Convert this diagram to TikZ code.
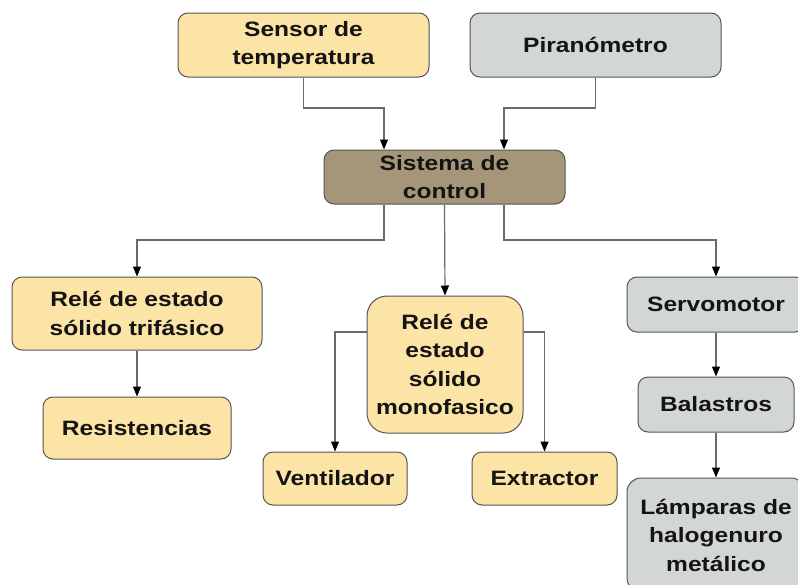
\documentclass[tikz,border=0pt]{standalone}
\usepackage{fontspec}
\setmainfont[FakeStretch=1.18]{Liberation Sans}
\usetikzlibrary{arrows.meta,calc}
\definecolor{boxyellow}{RGB}{252,227,166}
\definecolor{boxgray}{RGB}{211,215,212}
\definecolor{boxbrown}{RGB}{165,149,121}
\definecolor{boxline}{RGB}{85,85,85}
\definecolor{connline}{RGB}{105,105,105}
\definecolor{txt}{RGB}{20,20,20}
\tikzset{
  box/.style={draw=boxline, line width=1pt, rounded corners=10pt, inner sep=0pt,
    align=center, text=txt, font=\fontsize{20.8}{28.5}\selectfont\bfseries},
  ybox/.style={box, fill=boxyellow},
  gbox/.style={box, fill=boxgray},
  bbox/.style={box, fill=boxbrown},
  conn/.style={draw=connline, line width=1.2pt,
    -{Triangle[length=10pt,width=8pt,color=black,fill=black]}},
}
\begin{document}
\begin{tikzpicture}[x=1pt,y=-1pt]
\useasboundingbox (0,0) rectangle (798,584);
\clip (0,0) rectangle (798,584);
% nodes
\node[ybox, minimum width=251pt, minimum height=64pt] (sensor) at (303.5,45) {Sensor de\\temperatura};
\node[gbox, minimum width=251pt, minimum height=64pt] (piran) at (595.5,45) {Piranómetro};
\node[bbox, minimum width=241pt, minimum height=54pt] (sistema) at (444.5,177) {Sistema de\\control};
\node[ybox, minimum width=250pt, minimum height=73pt] (rtri) at (137,313.5) {Relé de estado\\sólido trifásico};
\node[ybox, minimum width=188pt, minimum height=62pt] (resist) at (137,428) {Resistencias};
\node[ybox, rounded corners=20pt, minimum width=156pt, minimum height=137pt] (rmono) at (445,364.5) {Relé de\\estado\\sólido\\monofasico};
\node[ybox, minimum width=144pt, minimum height=53pt] (vent) at (335,478.5) {Ventilador};
\node[ybox, minimum width=145pt, minimum height=53pt] (extr) at (544.5,478.5) {Extractor};
\node[gbox, minimum width=178pt, minimum height=55pt] (servo) at (716,304.5) {Servomotor};
\node[gbox, minimum width=156pt, minimum height=55pt] (balas) at (716,404.5) {Balastros};
\node[gbox, rounded corners=14pt, minimum width=178pt, minimum height=114pt] (lamp) at (716,535) {Lámparas de\\halogenuro\\metálico};
% junction levels
\coordinate (top) at (0,108);
\coordinate (mid) at (0,240);
% connectors
\draw[conn] (sensor.south) -- (sensor.south |- top) -| ([xshift=-60.5pt]sistema.north);
\draw[conn] (piran.south) -- (piran.south |- top) -| ([xshift=59.5pt]sistema.north);
\draw[conn] ([xshift=-60.5pt]sistema.south) -- ([xshift=-60.5pt]sistema.south |- mid) -| (rtri.north);
\draw[conn] (sistema.south) -- (rmono.north);
\draw[conn] ([xshift=59.5pt]sistema.south) -- ([xshift=59.5pt]sistema.south |- mid) -| (servo.north);
\draw[conn] (rtri.south) -- (resist.north);
\draw[conn] ([yshift=32.5pt]rmono.west) -| (vent.north);
\draw[conn] ([yshift=32.5pt]rmono.east) -| (extr.north);
\draw[conn] (servo.south) -- (balas.north);
\draw[conn] (balas.south) -- (lamp.north);
\end{tikzpicture}
\end{document}
